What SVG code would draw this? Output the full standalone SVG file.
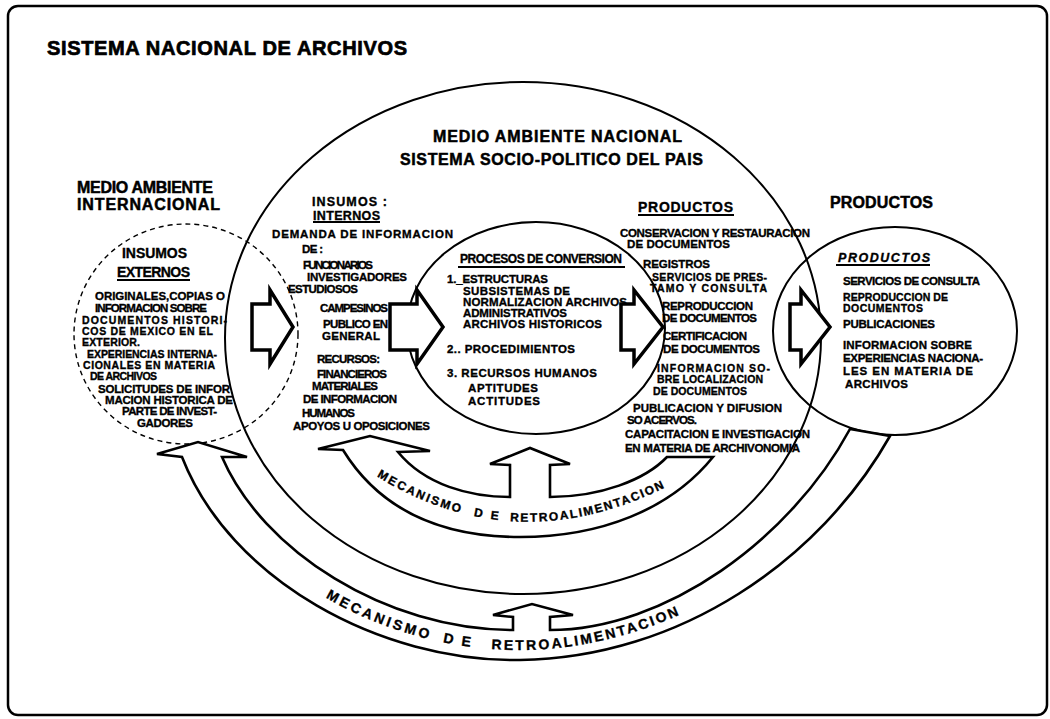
<svg xmlns="http://www.w3.org/2000/svg" width="1050" height="719" viewBox="0 0 1050 719">
<style>
text { font-family: "Liberation Sans", Arial, sans-serif; font-weight: bold; fill: #000; stroke: #000; stroke-width: 0.35; }
.t { font-size: 20px; stroke-width: 0.7; }
.h { font-size: 16px; stroke-width: 0.5; }
.s { font-size: 12.5px; }
.b { font-size: 11.5px; }
.n { font-size: 10.5px; }
.c { font-size: 12px; }
.f { font-size: 14px; }
.ring { fill: none; stroke: #000; stroke-width: 2; }
.dash { fill: none; stroke: #000; stroke-width: 1.4; stroke-dasharray: 5 4; }
.ul { stroke: #000; stroke-width: 1.8; }
.blk { fill: #fff; stroke: #000; stroke-width: 3.5; stroke-linejoin: miter; }
.band { fill: #fff; stroke: #000; stroke-width: 2.6; stroke-linejoin: miter; }
</style>
<defs>
<path id="p1" d="M355,462 Q522,580 705,465"/>
<path id="p2" d="M198,461 C243,570 382,651 520,650 C675,649 809,554 875,440"/>
</defs>
<rect x="0" y="0" width="1050" height="719" fill="#fff"/>
<rect id="frame" x="8" y="6" width="1039" height="709" rx="10" fill="none" stroke="#000" stroke-width="2.5"/>
<text class="t" x="47" y="55" textLength="360">SISTEMA NACIONAL DE ARCHIVOS</text>

<g id="internacional">
<ellipse class="dash" cx="186" cy="334" rx="112" ry="110"/>
<text class="h" x="77" y="193" textLength="136">MEDIO AMBIENTE</text>
<text class="h" x="77" y="210" textLength="143">INTERNACIONAL</text>
<text class="f" x="122" y="258" textLength="65">INSUMOS</text>
<text class="f" x="117" y="277" textLength="73">EXTERNOS</text>
<line class="ul" x1="117" y1="280" x2="190" y2="280"/>
<text class="b" x="95" y="300" textLength="130">ORIGINALES,COPIAS O</text>
<text class="b" x="95" y="312" textLength="112">INFORMACION SOBRE</text>
<text class="n" x="82" y="324" textLength="145">DOCUMENTOS HISTORI-</text>
<text class="n" x="82" y="335" textLength="131">COS DE MEXICO EN EL</text>
<text class="n" x="82" y="346" textLength="58">EXTERIOR.</text>
<text class="n" x="87" y="358" textLength="130">EXPERIENCIAS INTERNA-</text>
<text class="n" x="83" y="369" textLength="132">CIONALES EN MATERIA</text>
<text class="n" x="90" y="380" textLength="67">DE ARCHIVOS</text>
<text class="b" x="98" y="393" textLength="132">SOLICITUDES DE INFOR</text>
<text class="b" x="105" y="404" textLength="128">MACION HISTORICA DE</text>
<text class="b" x="122" y="415" textLength="95">PARTE DE INVEST-</text>
<text class="b" x="137" y="427" textLength="56">GADORES</text>
</g>

<g id="nacional">
<ellipse class="ring" cx="523" cy="338" rx="298" ry="256"/>
<text class="h" x="433" y="142" textLength="249">MEDIO AMBIENTE NACIONAL</text>
<text class="h" x="400" y="165" textLength="303">SISTEMA SOCIO-POLITICO DEL PAIS</text>
</g>

<g id="insumos-internos">
<text class="s" x="312" y="206" textLength="75">INSUMOS :</text>
<text class="s" x="313" y="220" textLength="67">INTERNOS</text>
<line class="ul" x1="313" y1="222" x2="380" y2="222"/>
<text class="b" x="272" y="238" textLength="181">DEMANDA DE INFORMACION</text>
<text class="b" x="302" y="253" textLength="21">DE :</text>
<text class="b" x="303" y="269" textLength="70">FUNCIONARIOS</text>
<text class="b" x="307" y="281" textLength="100">INVESTIGADORES</text>
<text class="b" x="288" y="293" textLength="70">ESTUDIOSOS</text>
<text class="b" x="320" y="312" textLength="68">CAMPESINOS</text>
<text class="b" x="323" y="328" textLength="65">PUBLICO EN</text>
<text class="b" x="322" y="340" textLength="58">GENERAL</text>
<text class="b" x="317" y="363" textLength="63">RECURSOS:</text>
<text class="b" x="317" y="378" textLength="70">FINANCIEROS</text>
<text class="b" x="312" y="390" textLength="66">MATERIALES</text>
<text class="b" x="303" y="403" textLength="94">DE INFORMACION</text>
<text class="b" x="302" y="417" textLength="53">HUMANOS</text>
<text class="b" x="293" y="430" textLength="137">APOYOS U OPOSICIONES</text>
</g>

<g id="procesos">
<ellipse class="ring" cx="536" cy="328" rx="129" ry="106"/>
<text class="c" x="460" y="263" textLength="162">PROCESOS DE CONVERSION</text>
<line class="ul" x1="458" y1="267" x2="625" y2="267" stroke-width="2.2"/>
<text class="b" x="447" y="283" textLength="101">1._ESTRUCTURAS</text>
<text class="b" x="463" y="295" textLength="107">SUBSISTEMAS DE</text>
<text class="b" x="463" y="306" textLength="164">NORMALIZACION ARCHIVOS</text>
<text class="b" x="463" y="317" textLength="104">ADMINISTRATIVOS</text>
<text class="b" x="463" y="328" textLength="139">ARCHIVOS HISTORICOS</text>
<text class="b" x="447" y="353" textLength="128">2.. PROCEDIMIENTOS</text>
<text class="b" x="447" y="377" textLength="150">3. RECURSOS HUMANOS</text>
<text class="b" x="468" y="392" textLength="70">APTITUDES</text>
<text class="b" x="468" y="405" textLength="72">ACTITUDES</text>
</g>

<g id="productos-internos">
<text class="f" x="638" y="212" textLength="95">PRODUCTOS</text>
<line class="ul" x1="638" y1="215" x2="734" y2="215"/>
<text class="b" x="620" y="237" textLength="190">CONSERVACION Y RESTAURACION</text>
<text class="b" x="627" y="248" textLength="103">DE DOCUMENTOS</text>
<text class="b" x="643" y="268" textLength="67">REGISTROS</text>
<text class="n" x="652" y="281" textLength="115">SERVICIOS DE PRES-</text>
<text class="n" x="650" y="292" textLength="117">TAMO Y CONSULTA</text>
<text class="b" x="662" y="310" textLength="91">REPRODUCCION</text>
<text class="b" x="662" y="322" textLength="95">DE DOCUMENTOS</text>
<text class="b" x="663" y="340" textLength="84">CERTIFICACION</text>
<text class="b" x="663" y="353" textLength="97">DE DOCUMENTOS</text>
<text class="n" x="657" y="372" textLength="113">INFORMACION SO-</text>
<text class="n" x="657" y="383" textLength="106">BRE LOCALIZACION</text>
<text class="n" x="653" y="395" textLength="94">DE DOCUMENTOS</text>
<text class="b" x="633" y="412" textLength="149">PUBLICACION Y DIFUSION</text>
<text class="b" x="627" y="424" textLength="70">SO ACERVOS.</text>
<text class="b" x="625" y="438" textLength="185">CAPACITACION E INVESTIGACION</text>
<text class="b" x="625" y="452" textLength="175">EN MATERIA DE ARCHIVONOMIA</text>
</g>

<g id="productos-externos">
<ellipse class="ring" cx="895" cy="331" rx="122" ry="104"/>
<text class="h" x="830" y="208" textLength="103">PRODUCTOS</text>
<text class="s" x="838" y="262" textLength="92" font-style="italic">PRODUCTOS</text>
<line class="ul" x1="836" y1="265" x2="930" y2="265"/>
<text class="b" x="843" y="285" textLength="137">SERVICIOS DE CONSULTA</text>
<text class="n" x="843" y="301" textLength="105">REPRODUCCION DE</text>
<text class="n" x="843" y="312" textLength="80">DOCUMENTOS</text>
<text class="b" x="843" y="328" textLength="92">PUBLICACIONES</text>
<text class="b" x="843" y="349" textLength="129">INFORMACION SOBRE</text>
<text class="b" x="843" y="362" textLength="140">EXPERIENCIAS NACIONA-</text>
<text class="b" x="843" y="375" textLength="130">LES EN MATERIA DE</text>
<text class="b" x="845" y="388" textLength="63">ARCHIVOS</text>
</g>

<g id="connectors">
<path class="blk" d="M252,304 L270,304 L270,290 L293,327 L270,364 L270,350 L252,350 Z"/>
<path class="blk" d="M390,304 L417,304 L417,290 L443,327 L417,364 L417,350 L390,350 Z"/>
<path class="blk" d="M621,304 L634,304 L634,290 L663,327 L634,364 L634,350 L621,350 Z"/>
<path class="blk" d="M790,304 L801,304 L801,290 L830,327 L801,364 L801,350 L790,350 Z"/>
<path class="band" d="M398,452 L430,451 L370,436 L318,449 L343,450 C380,510 440,537 520,537 C600,537 670,510 713,457 L667,457 C645,480 600,497 550,497 L550,465 L570,464 L530,448 L490,464 L510,465 L510,497 C470,497 425,485 398,452 Z"/>
<path class="band" d="M222,457 L247,457 L198,442 L157,454 L182,457 C230,580 380,662 520,660 C680,658 820,560 890,436 L850,429 C790,540 665,630 550,630 L550,617 L573,615 L532,604 L493,615 L513,617 L513,630 C385,630 262,550 222,457 Z"/>
<text class="c"><textPath href="#p1" startOffset="26" textLength="91">MECANISMO</textPath></text>
<text class="c"><textPath href="#p1" startOffset="131" textLength="25">DE</textPath></text>
<text class="c"><textPath href="#p1" startOffset="168" textLength="160">RETROALIMENTACION</textPath></text>
<text class="f"><textPath href="#p2" startOffset="190" textLength="111">MECANISMO</textPath></text>
<text class="f"><textPath href="#p2" startOffset="316" textLength="28">DE</textPath></text>
<text class="f"><textPath href="#p2" startOffset="365" textLength="193">RETROALIMENTACION</textPath></text>
</g>
</svg>
